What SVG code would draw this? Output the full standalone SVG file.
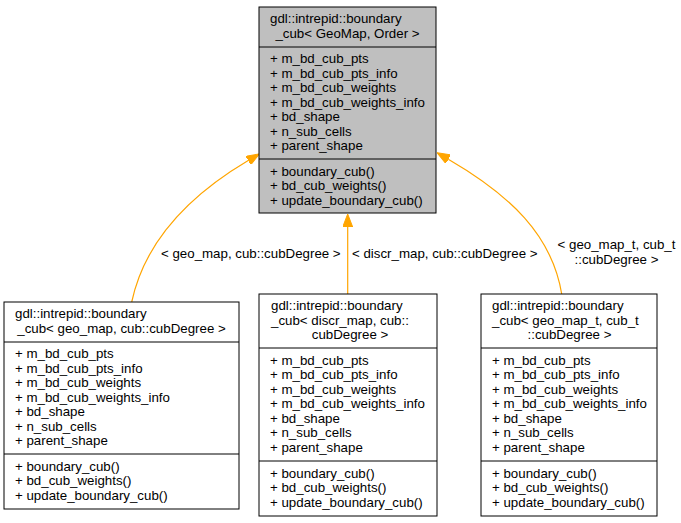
<svg xmlns="http://www.w3.org/2000/svg" width="681" height="523" viewBox="0 0 681 523">
<style>
text{font-family:"Liberation Sans",Arial,Helvetica,sans-serif;font-size:13.3px;fill:#000}
.box{fill:#fff;stroke:#000;stroke-width:1}
.cur{fill:#bfbfbf;stroke:#000;stroke-width:1}
.sep{stroke:#000;stroke-width:1}
.edge{fill:none;stroke:#ffa500;stroke-width:1.2}
.mid{text-anchor:middle}
</style>
<defs>
<marker id="arr" viewBox="0 0 13 10" refX="0" refY="5" markerWidth="13" markerHeight="10" markerUnits="userSpaceOnUse" orient="auto">
<path d="M0,0 L13,5 L0,10 z" fill="#ffa500" stroke="#ffa500" stroke-width="1"/>
</marker>
</defs>
<rect width="681" height="523" fill="#fff"/>
<g id="edges">
<path class="edge" d="M131.7,302 C145,240 190,195 248.2,160.5" marker-end="url(#arr)"/>
<path class="edge" d="M347.7,294 L347.7,227" marker-end="url(#arr)"/>
<path class="edge" d="M561.7,294 C552,235 510,195 448.3,159.2" marker-end="url(#arr)"/>
<text x="161" y="258">&lt; geo_map, cub::cubDegree &gt;</text>
<text x="352" y="258">&lt; discr_map, cub::cubDegree &gt;</text>
<text class="mid" x="616.5" y="249">&lt; geo_map_t, cub_t</text>
<text class="mid" x="616.5" y="263.5">::cubDegree &gt;</text>
</g>
<g id="node_base">
<rect class="cur" x="259" y="7" width="177" height="206"/>
<line class="sep" x1="259" y1="47" x2="436" y2="47"/>
<line class="sep" x1="259" y1="159" x2="436" y2="159"/>
<text x="270" y="23">gdl::intrepid::boundary</text>
<text class="mid" x="347.5" y="37.5">_cub&lt; GeoMap, Order &gt;</text>
<text x="270" y="63">+ m_bd_cub_pts</text>
<text x="270" y="77.5">+ m_bd_cub_pts_info</text>
<text x="270" y="92">+ m_bd_cub_weights</text>
<text x="270" y="106.5">+ m_bd_cub_weights_info</text>
<text x="270" y="121">+ bd_shape</text>
<text x="270" y="135.5">+ n_sub_cells</text>
<text x="270" y="150">+ parent_shape</text>
<text x="270" y="175.5">+ boundary_cub()</text>
<text x="270" y="190">+ bd_cub_weights()</text>
<text x="270" y="204.5">+ update_boundary_cub()</text>
</g>
<g id="node_geo_map">
<rect class="box" x="4" y="302" width="235" height="207"/>
<line class="sep" x1="4" y1="342" x2="239" y2="342"/>
<line class="sep" x1="4" y1="454" x2="239" y2="454"/>
<text x="15" y="318">gdl::intrepid::boundary</text>
<text class="mid" x="121.5" y="332.5">_cub&lt; geo_map, cub::cubDegree &gt;</text>
<text x="15" y="358">+ m_bd_cub_pts</text>
<text x="15" y="372.5">+ m_bd_cub_pts_info</text>
<text x="15" y="387">+ m_bd_cub_weights</text>
<text x="15" y="401.5">+ m_bd_cub_weights_info</text>
<text x="15" y="416">+ bd_shape</text>
<text x="15" y="430.5">+ n_sub_cells</text>
<text x="15" y="445">+ parent_shape</text>
<text x="15" y="470.5">+ boundary_cub()</text>
<text x="15" y="485">+ bd_cub_weights()</text>
<text x="15" y="499.5">+ update_boundary_cub()</text>
</g>
<g id="node_discr_map">
<rect class="box" x="259" y="294" width="178" height="222"/>
<line class="sep" x1="259" y1="348" x2="437" y2="348"/>
<line class="sep" x1="259" y1="461" x2="437" y2="461"/>
<text x="271" y="310">gdl::intrepid::boundary</text>
<text x="271" y="324.5">_cub&lt; discr_map, cub::</text>
<text class="mid" x="350" y="339">cubDegree &gt;</text>
<text x="270" y="364.5">+ m_bd_cub_pts</text>
<text x="270" y="379">+ m_bd_cub_pts_info</text>
<text x="270" y="393.5">+ m_bd_cub_weights</text>
<text x="270" y="408">+ m_bd_cub_weights_info</text>
<text x="270" y="422.5">+ bd_shape</text>
<text x="270" y="437">+ n_sub_cells</text>
<text x="270" y="451.5">+ parent_shape</text>
<text x="270" y="477.5">+ boundary_cub()</text>
<text x="270" y="492">+ bd_cub_weights()</text>
<text x="270" y="506.5">+ update_boundary_cub()</text>
</g>
<g id="node_geo_map_t">
<rect class="box" x="481" y="294" width="176" height="222"/>
<line class="sep" x1="481" y1="348" x2="657" y2="348"/>
<line class="sep" x1="481" y1="461" x2="657" y2="461"/>
<text x="492" y="310">gdl::intrepid::boundary</text>
<text x="492" y="324.5">_cub&lt; geo_map_t, cub_t</text>
<text class="mid" x="569.5" y="339">::cubDegree &gt;</text>
<text x="492" y="364.5">+ m_bd_cub_pts</text>
<text x="492" y="379">+ m_bd_cub_pts_info</text>
<text x="492" y="393.5">+ m_bd_cub_weights</text>
<text x="492" y="408">+ m_bd_cub_weights_info</text>
<text x="492" y="422.5">+ bd_shape</text>
<text x="492" y="437">+ n_sub_cells</text>
<text x="492" y="451.5">+ parent_shape</text>
<text x="492" y="477.5">+ boundary_cub()</text>
<text x="492" y="492">+ bd_cub_weights()</text>
<text x="492" y="506.5">+ update_boundary_cub()</text>
</g>
</svg>
